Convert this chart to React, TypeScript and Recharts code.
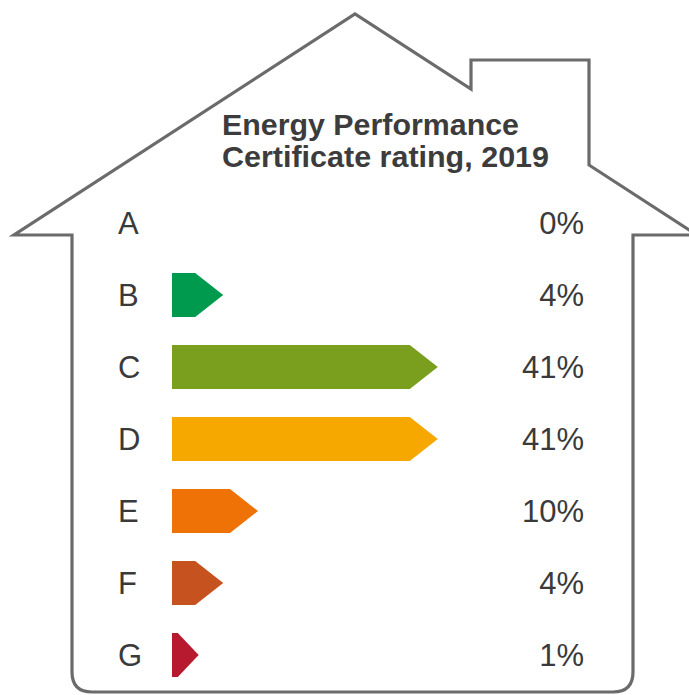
import React from 'react'
import { BarChart, Bar, XAxis, YAxis } from 'recharts'

// EPC rating shares, 2019
const ratings = ['A', 'B', 'C', 'D', 'E', 'F', 'G']
const shares = [0, 4, 41, 41, 10, 4, 1]
const ratingColors = ['#009a4e', '#009a4e', '#7a9e1d', '#f6a800', '#ee7206', '#c6521f', '#b71a2e']

const titleLines = ['Energy Performance', 'Certificate rating, 2019']

const W = 689
const H = 695
const TEXT = '#3a3a3a'
const ARROW = 28

const chartData = ratings.map((rating, i) => ({ rating, share: shares[i], color: ratingColors[i] }))

function ArrowBar(props: any) {
  const { x, y, width, height, payload } = props
  if (!payload || payload.share <= 0) return null
  const x2 = x + width
  // very short bars get a shorter tip
  const tip = Math.min(ARROW, width * 3.6)
  const d = `M${x},${y} L${x2},${y} L${x2 + tip},${y + height / 2} L${x2},${y + height} L${x},${y + height} Z`
  return <path d={d} fill={payload.color} />
}

function RatingTick(props: any) {
  const { y, payload } = props
  return (
    <text x={118} y={y} dy="0.36em" textAnchor="start" fontSize={31} fill={TEXT} fontFamily="'Liberation Sans', Arial, sans-serif">
      {payload.value}
    </text>
  )
}

function ShareTick(props: any) {
  const { y, payload } = props
  const row = chartData.find((d) => d.rating === payload.value)
  return (
    <text x={584} y={y} dy="0.36em" textAnchor="end" fontSize={31} fill={TEXT} fontFamily="'Liberation Sans', Arial, sans-serif">
      {row ? `${row.share}%` : ''}
    </text>
  )
}

function House() {
  // outline of the house drawn behind the chart
  const d =
    'M92,692 Q72,692 72,672 L72,235 L14,235 L355,14 L471,89 L471,60 L589,60 L589,165 L697,235 L633,235 L633,672 Q633,692 613,692 Z'
  return (
    <svg width={W} height={H} style={{ position: 'absolute', left: 0, top: 0, pointerEvents: 'none' }}>
      <path d={d} fill="none" stroke="#6b6b6b" strokeWidth={3.2} strokeLinejoin="miter" />
      {titleLines.map((line, i) => (
        <text
          key={line}
          x={222}
          y={135 + i * 32}
          fontSize={30}
          fontWeight="bold"
          fill="#3c3c3c"
          fontFamily="'Liberation Sans Narrow', 'Liberation Sans', Arial, sans-serif"
          textLength={i === 0 ? 297 : 327}
          lengthAdjust="spacingAndGlyphs"
        >
          {line}
        </text>
      ))}
    </svg>
  )
}

export default function App() {
  return (
    <div style={{ position: 'absolute', left: 0, top: 0, width: W, height: H, background: '#fff', overflow: 'hidden' }}>
      <House />
      <div style={{ position: 'absolute', left: 0, top: 0 }}>
        <BarChart
          width={W}
          height={H}
          data={chartData}
          layout="vertical"
          margin={{ top: 187, right: 0, bottom: 4, left: 0 }}
          barCategoryGap={0}
        >
          <XAxis type="number" domain={[0, 60]} hide />
          <YAxis
            yAxisId="left"
            type="category"
            dataKey="rating"
            width={172}
            axisLine={false}
            tickLine={false}
            tick={<RatingTick />}
            interval={0}
          />
          <YAxis
            yAxisId="right"
            orientation="right"
            type="category"
            dataKey="rating"
            width={169}
            axisLine={false}
            tickLine={false}
            tick={<ShareTick />}
            interval={0}
          />
          <Bar dataKey="share" yAxisId="left" barSize={44} shape={<ArrowBar />} isAnimationActive={false} />
        </BarChart>
      </div>
    </div>
  )
}
